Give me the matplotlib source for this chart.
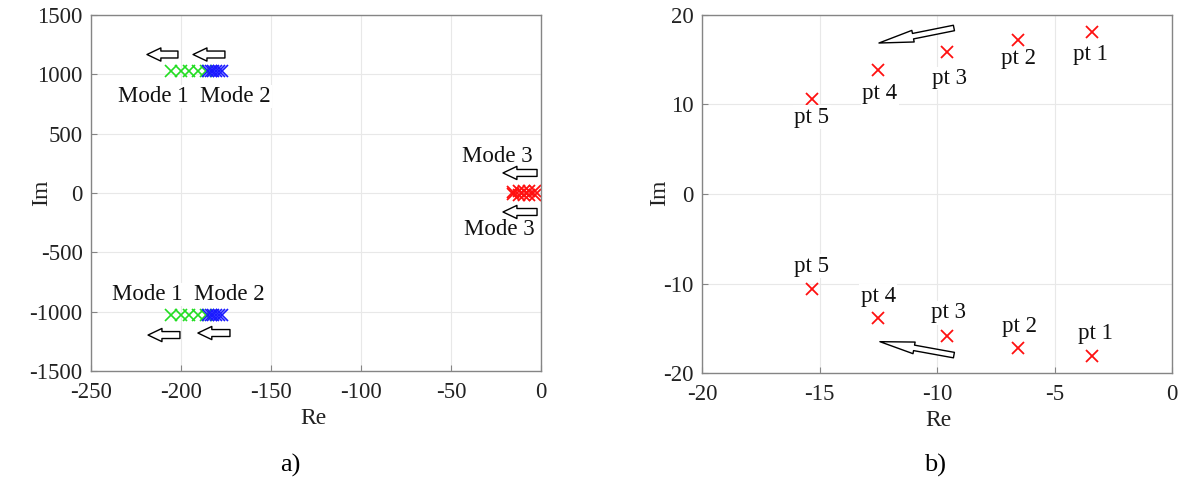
import matplotlib
matplotlib.use("Agg")
import matplotlib.pyplot as plt

plt.rcParams['font.family'] = ['Liberation Serif', 'DejaVu Serif']
plt.rcParams['axes.unicode_minus'] = False

# ---------------- data ----------------
# panel a
mode1_re = [-205.6, -200.0, -195.4, -190.7, -186.1]
mode2_re = [-185.0, -183.5, -182.0, -180.5, -179.0, -177.5]
mode12_im = 1025
# panel b (mode 3 poles, conjugate pairs)
pt_labels = ["pt 1", "pt 2", "pt 3", "pt 4", "pt 5"]
pt_re = [-3.4, -6.55, -9.57, -12.5, -15.33]
pt_im = [18.1, 17.2, 15.9, 13.8, 10.6]

a_xticks = [-250, -200, -150, -100, -50, 0]
a_yticks = [-1500, -1000, -500, 0, 500, 1000, 1500]
b_xticks = [-20, -15, -10, -5, 0]
b_yticks = [-20, -10, 0, 10, 20]

W, H = 1183, 493
fig = plt.figure(figsize=(W / 100, H / 100), dpi=100)

def px_axes(x0, y0, x1, y1):
    return fig.add_axes([x0 / W, 1 - y1 / H, (x1 - x0) / W, (y1 - y0) / H])

axa = px_axes(91, 15, 541, 371)
axb = px_axes(702, 15, 1172, 373)

spine_c = '#858585'
for ax in (axa, axb):
    ax.grid(True, color='#e8e8e8', linewidth=0.8)
    ax.set_axisbelow(True)
    for s in ax.spines.values():
        s.set_color(spine_c)
        s.set_linewidth(1.0)
    ax.tick_params(direction='in', length=4, color=spine_c, labelsize=16.5,
                   labelcolor='#222222', top=False, right=False)
    ax.tick_params(axis='x', pad=8)
    ax.tick_params(axis='y', pad=6)

# ---------- panel a ----------
axa.set_xlim(-250, 0)
axa.set_ylim(-1500, 1500)
axa.set_xticks(a_xticks)
axa.set_yticks(a_yticks)

for sgn in (1, -1):
    axa.plot(mode1_re, [sgn * mode12_im] * len(mode1_re), 'x', color='#22dd22',
             ms=9, mew=1.2, linestyle='none')
    axa.plot(mode2_re, [sgn * mode12_im] * len(mode2_re), 'x', color='#1a1aff',
             ms=8, mew=1.2, linestyle='none')
    axa.plot(pt_re, [sgn * v for v in pt_im], 'x', color='#ff1010',
             ms=8, mew=1.3, linestyle='none')

bbox_w = dict(facecolor='white', edgecolor='none', pad=1)
txt_kw = dict(fontsize=16.5, ha='center', va='baseline', color='#111111', bbox=bbox_w)
axa.text(-215.6, 767, "Mode 1", **txt_kw)
axa.text(-170.0, 767, "Mode 2", **txt_kw)
axa.text(-219.0, -902, "Mode 1", **txt_kw)
axa.text(-173.0, -902, "Mode 2", **txt_kw)
axa.text(-24.4, 264, "Mode 3", **txt_kw)
axa.text(-23.3, -354, "Mode 3", **txt_kw)

def hollow_arrow(ax, tail, head, hl, hw, tw):
    ax.annotate('', xy=head, xytext=tail,
                arrowprops=dict(arrowstyle=f'simple,head_length={hl},head_width={hw},tail_width={tw}',
                                mutation_scale=10, fc='white', ec='black', lw=1.0,
                                shrinkA=0, shrinkB=0))

for tail, head in [((-201.7, 1167), (-218.9, 1167)),
                   ((-175.6, 1167), (-193.3, 1167)),
                   ((-200.6, -1197), (-218.3, -1197)),
                   ((-172.8, -1180), (-190.6, -1180)),
                   ((-2.2, 169), (-21.1, 169)),
                   ((-2.2, -160), (-21.1, -160))]:
    hollow_arrow(axa, tail, head, 1.0, 0.95, 0.5)

# ---------- panel b ----------
axb.set_xlim(-20, 0)
axb.set_ylim(-20, 20)
axb.set_xticks(b_xticks)
axb.set_yticks(b_yticks)

axb.plot(pt_re, pt_im, 'x', color='#ff1010', ms=8, mew=1.3, linestyle='none')
axb.plot(pt_re, [-v for v in pt_im], 'x', color='#ff1010', ms=8, mew=1.3, linestyle='none')

up_pos = [(-3.49, 14.97), (-6.55, 14.49), (-9.46, 12.29), (-12.43, 10.58), (-15.33, 7.97)]
lo_pos = [(-3.24, -16.24), (-6.51, -15.38), (-9.49, -13.9), (-12.5, -12.03), (-15.36, -8.68)]
for lab, p in zip(pt_labels, up_pos):
    axb.text(p[0], p[1], lab, **txt_kw)
for lab, p in zip(pt_labels, lo_pos):
    axb.text(p[0], p[1], lab, **txt_kw)

hollow_arrow(axb, (-9.28, 18.55), (-12.47, 16.87), 2.5, 0.85, 0.4)
hollow_arrow(axb, (-9.28, -18.0), (-12.43, -16.5), 2.5, 0.85, 0.4)

# ---------- labels ----------
def ftext(x, y, s, color='#222222', **kw):
    fig.text(x / W, 1 - y / H, s, ha='center', va='center', color=color, **kw)

ftext(313, 418, "Re", fontsize=17)
ftext(42, 193, "Im", fontsize=17, rotation=90)
ftext(938, 420, "Re", fontsize=17)
ftext(660, 193, "Im", fontsize=17, rotation=90)
ftext(290, 465, "a)", fontsize=19, color='black')
ftext(935, 465, "b)", fontsize=19, color='black')

fig.savefig("out.png", dpi=100)
